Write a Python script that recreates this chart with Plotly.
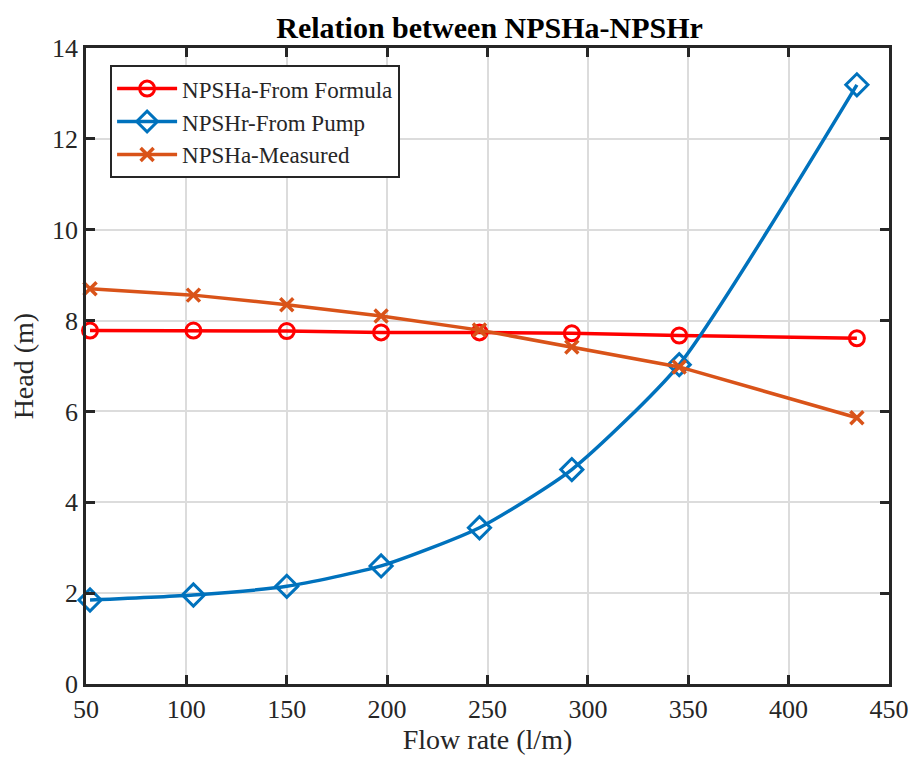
import plotly.graph_objects as go

# flow rate (l/m) at each measured point
flow = [52, 103.5, 150, 197, 246, 292, 345.5, 434]

npsha_formula = [7.78, 7.78, 7.77, 7.74, 7.74, 7.72, 7.67, 7.61]
npshr_pump = [1.85, 1.96, 2.15, 2.60, 3.44, 4.72, 7.03, 13.19]
npsha_measured = [8.70, 8.56, 8.35, 8.10, 7.79, 7.42, 6.98, 5.86]

x_ticks = [50, 100, 150, 200, 250, 300, 350, 400, 450]
y_ticks = [0, 2, 4, 6, 8, 10, 12, 14]

FONT = "Liberation Serif, Times New Roman, serif"
AX = "#262626"
GRID = "#dcdcdc"

fig = go.Figure()
fig.add_trace(go.Scatter(
    x=flow, y=npsha_formula, name="NPSHa-From Formula",
    mode="lines+markers", cliponaxis=False,
    line=dict(color="#FF0000", width=3.5),
    marker=dict(symbol="circle-open", size=15, line=dict(width=3), color="#FF0000"),
))
fig.add_trace(go.Scatter(
    x=flow, y=npshr_pump, name="NPSHr-From Pump",
    mode="lines+markers", cliponaxis=False,
    line=dict(color="#0072BD", width=3.5, shape="spline", smoothing=0.6),
    marker=dict(symbol="diamond-open", size=17, line=dict(width=3), color="#0072BD"),
))
fig.add_trace(go.Scatter(
    x=flow, y=npsha_measured, name="NPSHa-Measured",
    mode="lines+markers", cliponaxis=False,
    line=dict(color="#D95319", width=3.5),
    marker=dict(symbol="x-thin-open", size=13, line=dict(width=3.5, color="#D95319"),
                color="#D95319"),
))

axis_common = dict(
    showline=True, linecolor=AX, linewidth=2.5, mirror="ticks",
    ticks="inside", ticklen=9, tickwidth=2.5, tickcolor=AX,
    showgrid=True, gridcolor=GRID, gridwidth=1.5, zeroline=False,
    tickfont=dict(family=FONT, size=26, color=AX), automargin=False,
)
fig.update_xaxes(
    range=[50, 450], tickvals=x_ticks,
    title=dict(text="Flow rate (l/m)", font=dict(family=FONT, size=28, color=AX),
               standoff=2),
    **axis_common,
)
fig.update_yaxes(range=[0, 14], tickvals=y_ticks, **axis_common)

# y title as an annotation so it can sit further out than the standoff allows
fig.add_annotation(
    text="Head (m)", textangle=-90, xref="paper", yref="paper",
    x=-0.078, y=0.5, xanchor="center", yanchor="middle", showarrow=False,
    font=dict(family=FONT, size=28, color=AX),
)

fig.update_layout(
    width=910, height=760,
    margin=dict(l=86, r=21, t=48, b=76),
    paper_bgcolor="white", plot_bgcolor="white",
    title=dict(text="<b>Relation between NPSHa-NPSHr</b>", x=0.538, xanchor="center",
               y=0.964, yanchor="middle", automargin=False,
               font=dict(family=FONT, size=30, color="black")),
    legend=dict(
        x=0.03, y=0.973, xanchor="left", yanchor="top",
        bgcolor="white", bordercolor=AX, borderwidth=2,
        font=dict(family=FONT, size=23, color=AX),
        itemwidth=60, tracegroupgap=0,
    ),
    showlegend=True,
)

# drop the default 8px body margin so the 910x760 figure fills the window exactly
fig.write_html(
    "out.html",
    config={"displayModeBar": False},
    post_script="document.body.style.margin='0';",
)
